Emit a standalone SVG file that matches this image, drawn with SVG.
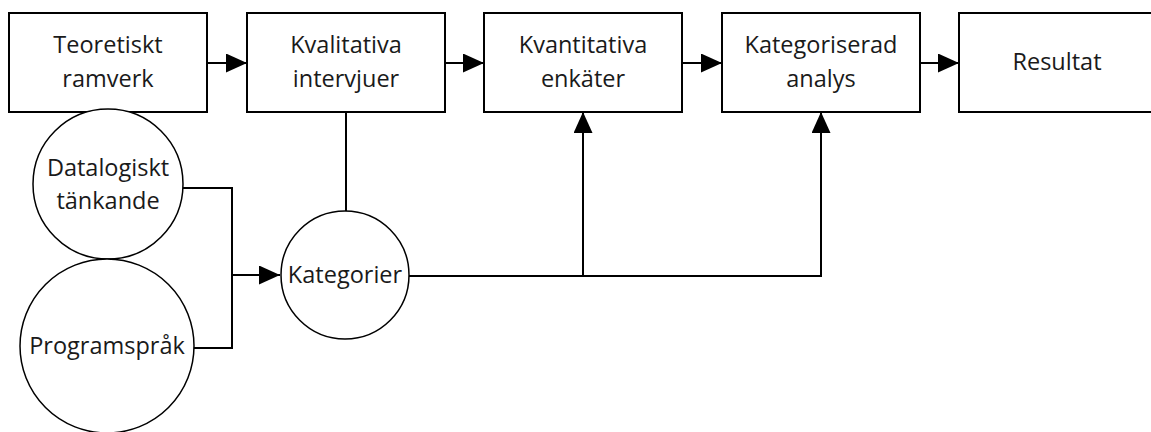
<svg xmlns="http://www.w3.org/2000/svg" width="1151" height="432" viewBox="0 0 1151 432">
<style>
.box{fill:#fff;stroke:#000;stroke-width:2}
.circ{fill:#fff;stroke:#000;stroke-width:1.5}
.t{font-family:"Open Sans","Noto Sans","Liberation Sans",sans-serif;font-size:23.5px;fill:#1a1a1a;text-anchor:middle}
.c{fill:none;stroke:#000;stroke-width:2}
</style>
<defs>
<marker id="ah" markerUnits="userSpaceOnUse" markerWidth="23" markerHeight="20" refX="21" refY="9.5" orient="auto">
<path d="M0,0 L21,9.5 L0,19 Z" fill="#000"/>
</marker>
</defs>
<rect width="1151" height="432" fill="#fff"/>
<g id="connectors">
<line class="c" x1="207" y1="63" x2="247" y2="63" marker-end="url(#ah)"/>
<line class="c" x1="445" y1="63" x2="484" y2="63" marker-end="url(#ah)"/>
<line class="c" x1="682" y1="63" x2="722" y2="63" marker-end="url(#ah)"/>
<line class="c" x1="920" y1="63" x2="959" y2="63" marker-end="url(#ah)"/>
<line class="c" x1="346" y1="112" x2="346" y2="211"/>
<polyline class="c" points="183,188 232,188 232,348 193,348"/>
<line class="c" x1="232" y1="275" x2="280" y2="275" stroke-width="3" marker-end="url(#ah)"/>
<polyline class="c" points="409,276 821,276 821,112" marker-end="url(#ah)"/>
<line class="c" x1="583" y1="276" x2="583" y2="112" marker-end="url(#ah)"/>
</g>
<g id="teoretiskt">
<rect class="box" x="9" y="13" width="198" height="99"/>
<text class="t" x="108" y="53">Teoretiskt</text>
<text class="t" x="108" y="87">ramverk</text>
</g>
<g id="kvalitativa">
<rect class="box" x="247" y="13" width="198" height="99"/>
<text class="t" x="346" y="53">Kvalitativa</text>
<text class="t" x="346" y="87">intervjuer</text>
</g>
<g id="kvantitativa">
<rect class="box" x="484" y="13" width="198" height="99"/>
<text class="t" x="583" y="53">Kvantitativa</text>
<text class="t" x="583" y="87">enkäter</text>
</g>
<g id="kategoriserad">
<rect class="box" x="722" y="13" width="198" height="99"/>
<text class="t" x="821" y="53">Kategoriserad</text>
<text class="t" x="821" y="87">analys</text>
</g>
<g id="resultat">
<rect class="box" x="959" y="13" width="198" height="99"/>
<text class="t" x="1057" y="70">Resultat</text>
</g>
<g id="datalogiskt">
<circle class="circ" cx="108" cy="184" r="75"/>
<text class="t" x="108" y="176">Datalogiskt</text>
<text class="t" x="108" y="209">tänkande</text>
</g>
<g id="programsprak">
<circle class="circ" cx="107" cy="346" r="87"/>
<text class="t" x="107" y="354">Programspråk</text>
</g>
<g id="kategorier">
<circle class="circ" cx="345" cy="275" r="64"/>
<text class="t" x="345" y="283">Kategorier</text>
</g>
</svg>
